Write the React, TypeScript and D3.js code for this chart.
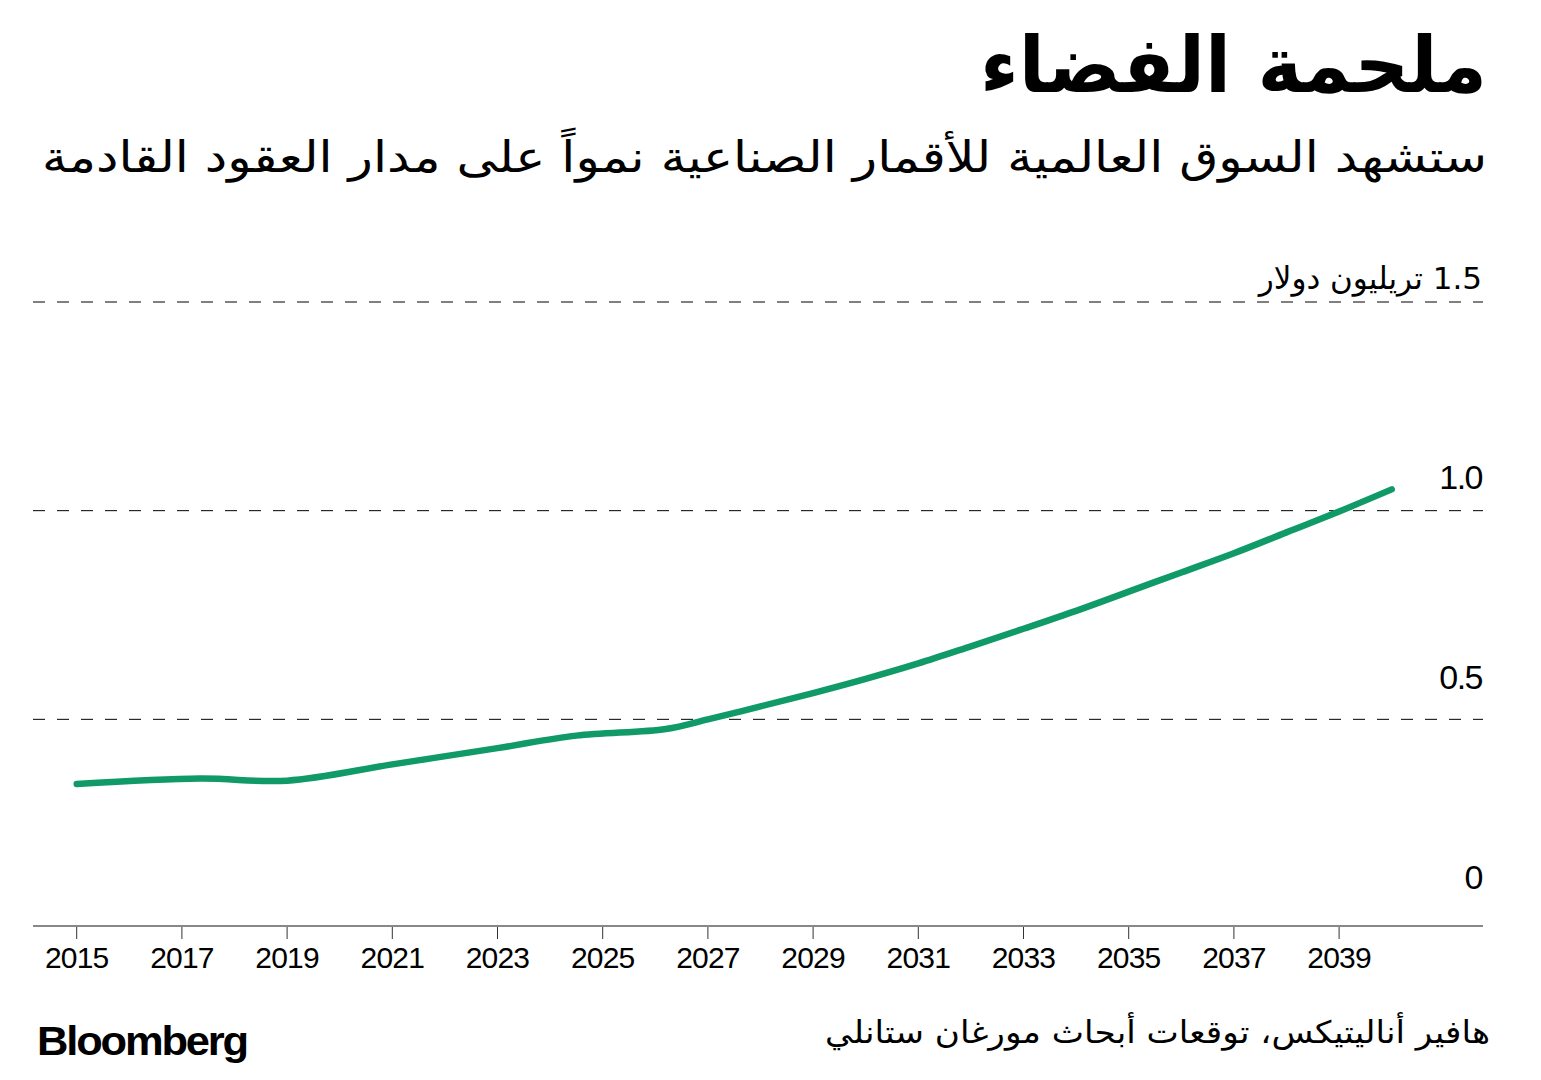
import React from "react";
import * as d3 from "d3";

const years = [2015, 2017.35, 2019, 2021, 2023, 2024.5, 2026.2, 2027, 2028, 2029, 2030, 2031, 2032, 2033, 2034, 2035, 2036, 2037, 2038, 2039, 2040];
const values = [0.345, 0.358, 0.353, 0.392, 0.431, 0.461, 0.477, 0.5, 0.531, 0.563, 0.597, 0.634, 0.675, 0.717, 0.76, 0.806, 0.852, 0.898, 0.948, 0.998, 1.051];
const xTicks = [2015, 2017, 2019, 2021, 2023, 2025, 2027, 2029, 2031, 2033, 2035, 2037, 2039];
const yTicks = [0, 0.5, 1.0, 1.5];
const yTickLabels = ["0", "0.5", "1.0", "1.5 تريليون دولار"];

const title = "ملحمة الفضاء";
const subtitle = "ستشهد السوق العالمية للأقمار الصناعية نمواً على مدار العقود القادمة";
const source = "هافير أناليتيكس، توقعات أبحاث مورغان ستانلي";

const W = 1541;
const H = 1080;
const LINE = "#0f9a68";
const LATIN = "'Liberation Sans', Arial, sans-serif";
const ARABIC = "'DejaVu Sans', sans-serif";

export default function App() {
  const x = d3.scaleLinear().domain([2015, 2040]).range([76.7, 1391.7]);
  const y = d3.scaleLinear().domain([0, 1.5]).range([928, 302]);
  const labelY = d3.scaleLinear().domain([0, 1.5]).range([889, 289]);
  const left = 33;
  const right = 1483;
  const axisY = 926;

  const data = years.map((yr, i) => ({ yr, v: values[i] }));
  const line = d3
    .line<{ yr: number; v: number }>()
    .x((d) => x(d.yr))
    .y((d) => y(d.v))
    .curve(d3.curveCatmullRom.alpha(0.5));

  return (
    <svg
      width={W}
      height={H}
      style={{ position: "absolute", left: 0, top: 0, background: "#fff" }}
    >
      <rect width={W} height={H} fill="#fff" />
      {/* Title */}
      <text
        x={1487}
        y={92}
        textAnchor="start"
        direction="rtl"
        fontFamily={ARABIC}
        fontWeight={900}
        fontSize={78}
        textLength={507}
        lengthAdjust="spacingAndGlyphs"
        fill="#000"
      >
        {title}
      </text>
      <text
        x={1487}
        y={172}
        textAnchor="start"
        direction="rtl"
        fontFamily={ARABIC}
        fontSize={43}
        textLength={1445}
        lengthAdjust="spacingAndGlyphs"
        fill="#000"
      >
        {subtitle}
      </text>

      {/* gridlines */}
      {yTicks
        .filter((t) => t > 0)
        .map((t) => (
          <line
            key={"g" + t}
            x1={left}
            x2={right}
            y1={y(t)}
            y2={y(t)}
            stroke="#000"
            strokeWidth={1}
            strokeDasharray="12,12"
          />
        ))}

      {/* y labels */}
      {yTicks.map((t, i) => (
        <text
          key={"yl" + t}
          x={right - 1}
          y={labelY(t)}
          textAnchor="start"
          direction="rtl"
          fontFamily={i === 3 ? ARABIC : LATIN}
          fontSize={i === 3 ? 31 : 34}
          letterSpacing={i === 3 ? 0 : -1.5}
          fill="#000"
        >
          {yTickLabels[i]}
        </text>
      ))}

      {/* x axis */}
      <line x1={left} x2={right} y1={axisY} y2={axisY} stroke="#888" strokeWidth={2} />
      {xTicks.map((t) => (
        <g key={"xt" + t}>
          <line x1={x(t)} x2={x(t)} y1={axisY + 1} y2={axisY + 13} stroke="#333" strokeWidth={1} />
          <text
            x={x(t)}
            y={968}
            textAnchor="middle"
            fontFamily={LATIN}
            fontSize={30}
            letterSpacing={-0.8}
            fill="#000"
          >
            {t}
          </text>
        </g>
      ))}

      {/* data line */}
      <path
        d={line(data) || ""}
        fill="none"
        stroke={LINE}
        strokeWidth={6.5}
        strokeLinecap="round"
        strokeLinejoin="round"
      />

      {/* footer */}
      <text
        x={37}
        y={1055}
        fontFamily={LATIN}
        fontWeight={700}
        fontSize={40}
        letterSpacing={-2}
        textLength={210}
        lengthAdjust="spacingAndGlyphs"
        fill="#000"
      >
        Bloomberg
      </text>
      <text
        x={1490}
        y={1043}
        textAnchor="start"
        direction="rtl"
        fontFamily={ARABIC}
        fontSize={31}
        textLength={665}
        lengthAdjust="spacingAndGlyphs"
        fill="#000"
      >
        {source}
      </text>
    </svg>
  );
}
